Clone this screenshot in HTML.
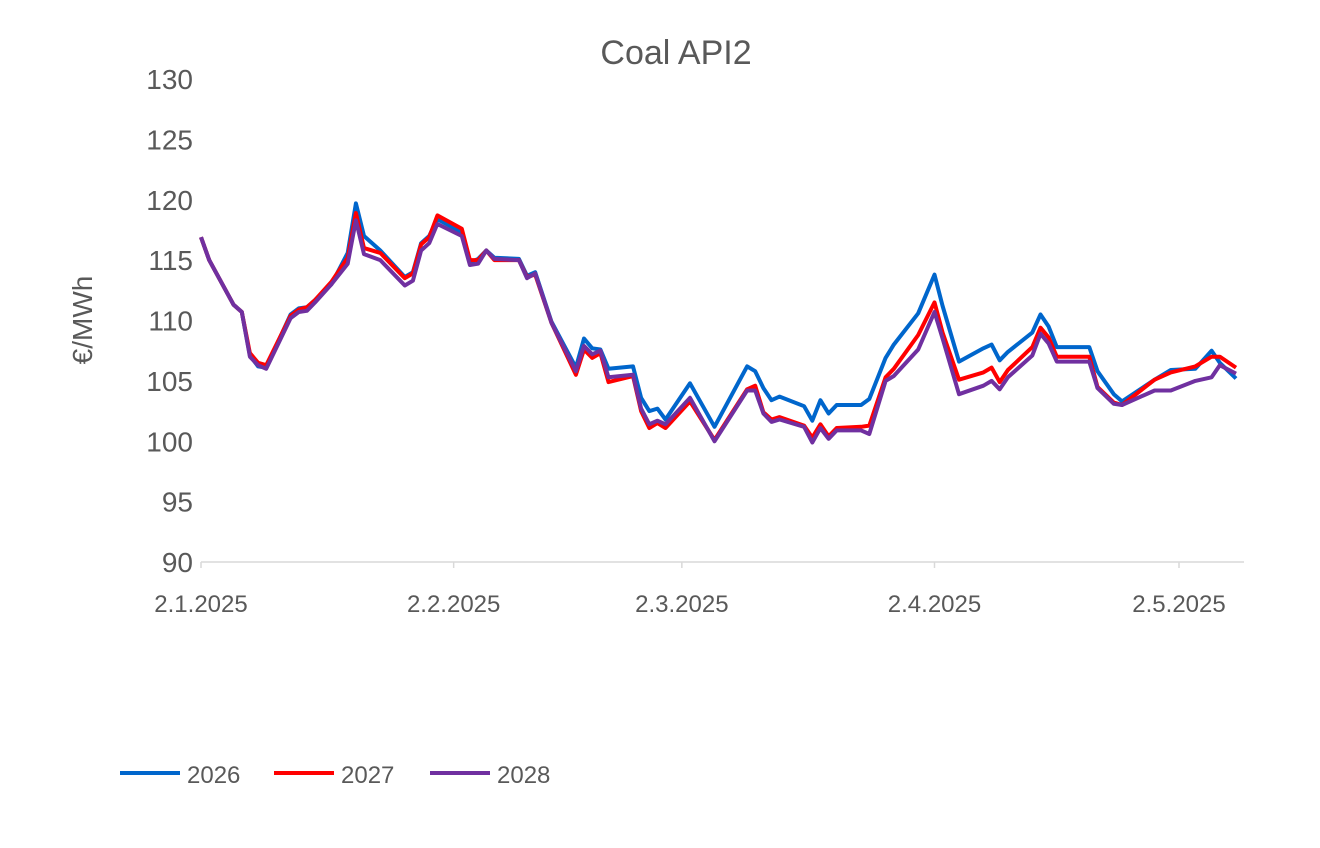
<!DOCTYPE html>
<html><head><meta charset="utf-8"><style>
html,body{margin:0;padding:0;background:#fff;}
svg text{font-family:"Liberation Sans",sans-serif;fill:#595959;}
</style></head><body>
<svg id="chart" width="1320" height="843" viewBox="0 0 1320 843" xmlns="http://www.w3.org/2000/svg">
<text x="676" y="64" font-size="34" text-anchor="middle">Coal API2</text>
<text transform="translate(92,320) rotate(-90)" font-size="28" text-anchor="middle">€/MWh</text>
<g id="yticks"></g>
<g id="xticks"></g>
<line x1="201" y1="562" x2="1244" y2="562" stroke="#d9d9d9" stroke-width="1.5"/>
<g id="series"></g>
<g>
<g><line x1="120" y1="773" x2="180" y2="773" stroke="#0066cc" stroke-width="4"/><text x="187" y="783" font-size="24">2026</text></g>
<g><line x1="274" y1="773" x2="334" y2="773" stroke="#ff0000" stroke-width="4"/><text x="341" y="783" font-size="24">2027</text></g>
<g><line x1="430" y1="773" x2="490" y2="773" stroke="#7030a0" stroke-width="4"/><text x="497" y="783" font-size="24">2028</text></g>
</g>
</svg>
<script>
const days = [0,1,4,5,6,7,8,11,12,13,14,16,18,19,20,22,25,26,27,28,29,32,33,34,35,36,39,40,41,43,46,47,48,49,50,53,54,55,56,57,60,63,67,68,69,70,71,74,75,76,77,78,81,82,84,85,88,90,91,93,96,97,98,99,102,103,104,105,109,110,112,113,117,119,122,124,125,127];
const s2026 = [116.9,115.0,111.3,110.7,107.1,106.2,106.1,110.5,111.0,111.1,111.7,113.0,115.6,119.7,117.0,115.8,113.6,114.0,116.4,117.0,118.4,117.3,114.8,115.1,115.8,115.2,115.1,113.7,114.0,109.9,106.1,108.5,107.7,107.6,106.0,106.2,103.6,102.5,102.7,101.8,104.8,101.2,106.2,105.8,104.4,103.4,103.7,102.9,101.7,103.4,102.3,103.0,103.0,103.5,106.9,108.0,110.6,113.8,111.2,106.6,107.7,108.0,106.7,107.4,109.0,110.5,109.5,107.8,107.8,105.8,103.9,103.3,105.1,105.9,106.0,107.5,106.5,105.2];
const s2027 = [116.9,115.0,111.3,110.7,107.3,106.5,106.3,110.4,110.9,111.1,111.7,113.2,115.2,118.9,116.0,115.6,113.5,113.9,116.3,116.9,118.7,117.6,115.0,115.0,115.8,115.0,115.0,113.6,113.8,109.8,105.5,107.6,106.9,107.3,104.9,105.4,102.5,101.1,101.5,101.1,103.3,100.1,104.3,104.6,102.4,101.8,102.0,101.3,100.3,101.4,100.4,101.1,101.2,101.3,105.3,106.0,108.8,111.5,109.0,105.1,105.7,106.1,104.9,105.9,107.8,109.4,108.6,107.0,107.0,104.5,103.2,103.0,105.1,105.7,106.2,107.0,107.0,106.1];
const s2028 = [116.9,115.0,111.3,110.7,107.0,106.3,106.0,110.2,110.7,110.8,111.5,113.0,114.7,118.3,115.5,115.0,112.9,113.3,115.8,116.4,118.0,117.0,114.6,114.7,115.8,115.1,115.0,113.5,113.9,109.8,105.8,107.9,107.2,107.5,105.3,105.5,102.7,101.4,101.7,101.4,103.6,100.0,104.2,104.2,102.3,101.6,101.8,101.2,99.9,101.1,100.2,100.9,100.9,100.6,105.0,105.4,107.6,110.7,108.5,103.9,104.6,105.0,104.3,105.3,107.1,108.9,108.1,106.6,106.6,104.4,103.1,103.0,104.2,104.2,105.0,105.3,106.3,105.6];
const yTicks = [90,95,100,105,110,115,120,125,130];
const xTickDays = [0,31,59,90,120];
const xTickLabels = ["2.1.2025","2.2.2025","2.3.2025","2.4.2025","2.5.2025"];
const seriesNames = ["2026","2027","2028"];

const NS="http://www.w3.org/2000/svg";
function xs(d){return 201 + d*8.15;}
function ys(v){return 562 - (v-90)*12.075;}
const yg=document.getElementById('yticks');
yTicks.forEach(t=>{
  const el=document.createElementNS(NS,'text');
  
  
  el.setAttribute('x',193);el.setAttribute('y',ys(t)+10);
  el.setAttribute('font-size','28');el.setAttribute('text-anchor','end');
  el.textContent=t;yg.appendChild(el);
});
const xg=document.getElementById('xticks');
xTickDays.forEach((d,i)=>{
  const el=document.createElementNS(NS,'text');
  
  
  el.setAttribute('x',xs(d));el.setAttribute('y',612);
  el.setAttribute('font-size','24');el.setAttribute('text-anchor','middle');
  el.textContent=xTickLabels[i];xg.appendChild(el);
  const tk=document.createElementNS(NS,'line');
  
  
  tk.setAttribute('x1',xs(d));tk.setAttribute('x2',xs(d));
  tk.setAttribute('y1',562);tk.setAttribute('y2',568);
  tk.setAttribute('stroke','#d9d9d9');tk.setAttribute('stroke-width','1.5');
  xg.appendChild(tk);
});
const sg=document.getElementById('series');
[[s2026,'#0066cc'],[s2027,'#ff0000'],[s2028,'#7030a0']].forEach(([vals,col],k)=>{
  const p=document.createElementNS(NS,'polyline');
  
  
  p.setAttribute('points',vals.map((v,i)=>xs(days[i]).toFixed(1)+','+ys(v).toFixed(1)).join(' '));
  p.setAttribute('fill','none');p.setAttribute('stroke',col);
  p.setAttribute('stroke-width','4');p.setAttribute('stroke-linejoin','round');
  sg.appendChild(p);
});
</script>
</body></html>
